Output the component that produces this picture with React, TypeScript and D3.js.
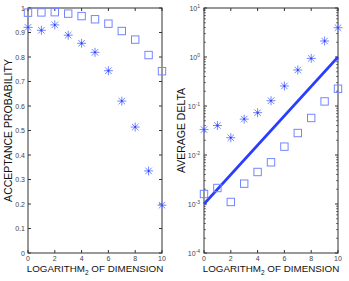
import * as d3 from 'd3'

const dims = [0, 1, 2, 3, 4, 5, 6, 7, 8, 9, 10]
const acceptSquares = [0.981, 0.982, 0.983, 0.977, 0.967, 0.954, 0.936, 0.906, 0.871, 0.808, 0.742]
const acceptStars = [0.921, 0.909, 0.931, 0.889, 0.856, 0.819, 0.744, 0.62, 0.514, 0.335, 0.195]
const deltaStars = [0.033, 0.04, 0.0225, 0.054, 0.073, 0.128, 0.256, 0.543, 0.937, 2.12, 3.96]
const deltaSquares = [0.0016, 0.00212, 0.0011, 0.0026, 0.0045, 0.0071, 0.0148, 0.0281, 0.057, 0.124, 0.225]
const fitLine = [{ x: 0, y: 0.001 }, { x: 10, y: 1 }]
const xTicks = [0, 2, 4, 6, 8, 10]
const linTicks = [0, 0.1, 0.2, 0.3, 0.4, 0.5, 0.6, 0.7, 0.8, 0.9, 1]
const logExps = [1, 0, -1, -2, -3, -4]

const markerColor = '#7386ff'
const lineColor = '#2a3cff'
const axisColor = '#333'
const font = 'Liberation Sans, Arial, sans-serif'

function Star({ x, y }: { x: number; y: number }) {
  const r = 4.5
  const d = r * 0.72
  return (
    <g stroke={markerColor} strokeWidth={1}>
      <line x1={x - r} y1={y} x2={x + r} y2={y} />
      <line x1={x} y1={y - r} x2={x} y2={y + r} />
      <line x1={x - d} y1={y - d} x2={x + d} y2={y + d} />
      <line x1={x - d} y1={y + d} x2={x + d} y2={y - d} />
      <circle cx={x} cy={y} r={1} fill="#2a3cff" stroke="none" />
    </g>
  )
}

function Square({ x, y }: { x: number; y: number }) {
  return <rect x={x - 3.7} y={y - 3.7} width={7.4} height={7.4} fill="none" stroke={markerColor} strokeWidth={1} />
}

function XAxisTitle({ cx, y }: { cx: number; y: number }) {
  return (
    <text x={cx} y={y} textAnchor="middle" fontSize={9.8} fontFamily={font} fill="#111">
      LOGARITHM<tspan fontSize={6.5} dy={3}>2</tspan>
      <tspan dy={-3}> OF DIMENSION</tspan>
    </text>
  )
}

export default function App() {
  const top = 8
  const bottom = 253
  const xL = d3.scaleLinear().domain([0, 10]).range([28, 162])
  const yL = d3.scaleLinear().domain([0, 1]).range([bottom, top])
  const xR = d3.scaleLinear().domain([0, 10]).range([204, 338])
  const yR = d3.scaleLog().domain([1e-4, 10]).range([bottom, top])
  const line = d3.line<{ x: number; y: number }>().x((d) => xR(d.x)).y((d) => yR(d.y))

  const minor: number[] = []
  for (let e = -4; e < 1; e++) for (let m = 2; m <= 9; m++) minor.push(m * Math.pow(10, e))

  return (
    <svg width={349} height={281} style={{ position: 'absolute', left: 0, top: 0, background: '#fff' }}>
      {/* left panel */}
      <g>
        {linTicks.map((t) => (
          <g key={t}>
            <line x1={xL(0)} x2={xL(0) + 3} y1={yL(t)} y2={yL(t)} stroke={axisColor} />
            <line x1={xL(10)} x2={xL(10) - 3} y1={yL(t)} y2={yL(t)} stroke={axisColor} />
            <text x={xL(0) - 3} y={yL(t) + 2.5} textAnchor="end" fontSize={7} fontFamily={font} fill="#444">
              {t === 0 || t === 1 ? t : t.toFixed(1)}
            </text>
          </g>
        ))}
        {xTicks.map((t) => (
          <g key={t}>
            <line x1={xL(t)} x2={xL(t)} y1={bottom} y2={bottom - 3} stroke={axisColor} />
            <line x1={xL(t)} x2={xL(t)} y1={top} y2={top + 3} stroke={axisColor} />
            <text x={xL(t)} y={bottom + 7.5} textAnchor="middle" fontSize={7} fontFamily={font} fill="#444">{t}</text>
          </g>
        ))}
        <rect x={xL(0)} y={top} width={xL(10) - xL(0)} height={bottom - top} fill="none" stroke={axisColor} strokeWidth={1} />
        {dims.map((d, i) => <Square key={'s' + d} x={xL(d)} y={yL(acceptSquares[i])} />)}
        {dims.map((d, i) => <Star key={'t' + d} x={xL(d)} y={yL(acceptStars[i])} />)}
        <text transform={`translate(12,${(top + bottom) / 2}) rotate(-90)`} textAnchor="middle" fontSize={10.5} fontFamily={font} fill="#111">
          ACCEPTANCE PROBABILITY
        </text>
        <XAxisTitle cx={(xL(0) + xL(10)) / 2} y={271.5} />
      </g>
      {/* right panel */}
      <g>
        {logExps.map((e) => (
          <g key={e}>
            <line x1={xR(0)} x2={xR(0) + 3} y1={yR(Math.pow(10, e))} y2={yR(Math.pow(10, e))} stroke={axisColor} />
            <line x1={xR(10)} x2={xR(10) - 3} y1={yR(Math.pow(10, e))} y2={yR(Math.pow(10, e))} stroke={axisColor} />
            <text x={xR(0) - 4} y={yR(Math.pow(10, e)) + 2.5} textAnchor="end" fontSize={7} fontFamily={font} fill="#444">
              10<tspan fontSize={5} dy={-3}>{e}</tspan>
            </text>
          </g>
        ))}
        {minor.map((m) => (
          <g key={m}>
            <line x1={xR(0)} x2={xR(0) + 1.8} y1={yR(m)} y2={yR(m)} stroke={axisColor} strokeWidth={0.8} />
            <line x1={xR(10)} x2={xR(10) - 1.8} y1={yR(m)} y2={yR(m)} stroke={axisColor} strokeWidth={0.8} />
          </g>
        ))}
        {xTicks.map((t) => (
          <g key={t}>
            <line x1={xR(t)} x2={xR(t)} y1={bottom} y2={bottom - 3} stroke={axisColor} />
            <line x1={xR(t)} x2={xR(t)} y1={top} y2={top + 3} stroke={axisColor} />
            <text x={xR(t)} y={bottom + 7.5} textAnchor="middle" fontSize={7} fontFamily={font} fill="#444">{t}</text>
          </g>
        ))}
        <rect x={xR(0)} y={top} width={xR(10) - xR(0)} height={bottom - top} fill="none" stroke={axisColor} strokeWidth={1} />
        <path d={line(fitLine) || ''} stroke={lineColor} strokeWidth={2.6} fill="none" />
        {dims.map((d, i) => <Square key={'s' + d} x={xR(d)} y={yR(deltaSquares[i])} />)}
        {dims.map((d, i) => <Star key={'t' + d} x={xR(d)} y={yR(deltaStars[i])} />)}
        <text transform={`translate(185,${(top + bottom) / 2}) rotate(-90)`} textAnchor="middle" fontSize={10.5} fontFamily={font} fill="#111">
          AVERAGE DELTA
        </text>
        <XAxisTitle cx={(xR(0) + xR(10)) / 2} y={271.5} />
      </g>
    </svg>
  )
}
